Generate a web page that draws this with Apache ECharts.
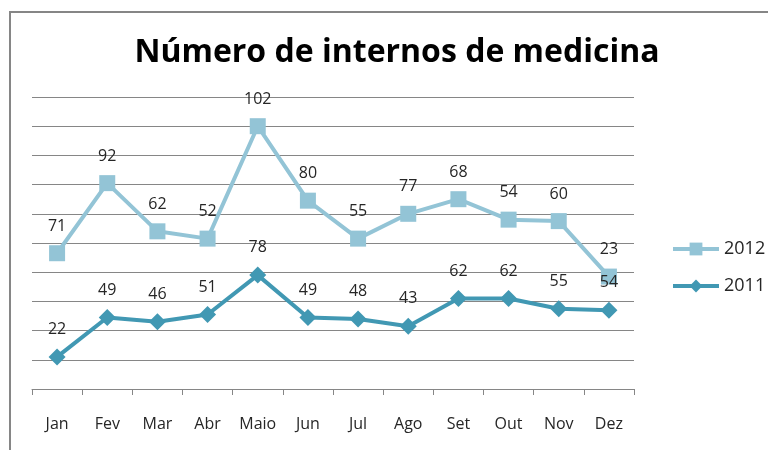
<!DOCTYPE html>
<html>
<head>
<meta charset="utf-8">
<script src="https://cdn.jsdelivr.net/npm/echarts@6/dist/echarts.min.js"></script>
<style>
html, body { margin: 0; padding: 0; background: #fff; }
#frame { position: absolute; left: 9px; top: 11px; width: 780px; height: 460px; border: 2px solid #868686; box-sizing: border-box; }
#main { position: absolute; left: 0; top: 0; width: 768px; height: 450px; }
</style>
</head>
<body>
<div id="frame"></div>
<div id="main"></div>
<script>
var months = ['Jan', 'Fev', 'Mar', 'Abr', 'Maio', 'Jun', 'Jul', 'Ago', 'Set', 'Out', 'Nov', 'Dez'];
var internos2011 = [22, 49, 46, 51, 78, 49, 48, 43, 62, 62, 55, 54];
var internos2012 = [71, 92, 62, 52, 102, 80, 55, 77, 68, 54, 60, 23];

var myChart = echarts.init(document.getElementById('main'));
var fontName = 'Open Sans';
var option = {
    animation: false,
    title: {
        text: 'Número de internos de medicina',
        left: 392,
        textAlign: 'center',
        top: 32,
        textStyle: {
            fontFamily: fontName,
            fontSize: 32,
            fontWeight: 'bold',
            color: '#000'
        }
    },
    legend: {
        orient: 'vertical',
        left: 666,
        top: 235,
        itemWidth: 46,
        itemHeight: 16,
        itemGap: 19,
        data: ['2012', '2011'],
        lineStyle: { width: 4 },
        textStyle: { fontFamily: fontName, fontSize: 18, color: '#262626' }
    },
    grid: { left: 32, right: 134, top: 97, bottom: 61 },
    xAxis: {
        type: 'category',
        data: months,
        boundaryGap: true,
        axisLine: { lineStyle: { color: '#868686', width: 1 } },
        axisTick: { show: true, length: 6, lineStyle: { color: '#868686' } },
        axisLabel: { fontFamily: fontName, fontSize: 16, color: '#262626', margin: 27 }
    },
    yAxis: {
        type: 'value',
        min: 0,
        max: 200,
        interval: 20,
        axisLabel: { show: false },
        axisLine: { show: false },
        axisTick: { show: false },
        splitLine: { lineStyle: { color: '#868686', width: 1 } }
    },
    series: [{
        name: '2011',
        type: 'line',
        stack: 'total',
        data: internos2011,
        symbol: 'diamond',
        symbolSize: 17,
        lineStyle: { width: 4, color: '#4198B3' },
        itemStyle: { color: '#4198B3' },
        label: { show: true, position: 'top', distance: 11, fontFamily: fontName, fontSize: 16, color: '#262626' }
    }, {
        name: '2012',
        type: 'line',
        stack: 'total',
        data: internos2012,
        symbol: 'rect',
        symbolSize: 16,
        lineStyle: { width: 4, color: '#93C4D6' },
        itemStyle: { color: '#93C4D6' },
        label: { show: true, position: 'top', distance: 11, fontFamily: fontName, fontSize: 16, color: '#262626' }
    }]
};
myChart.setOption(option);
</script>
</body>
</html>
